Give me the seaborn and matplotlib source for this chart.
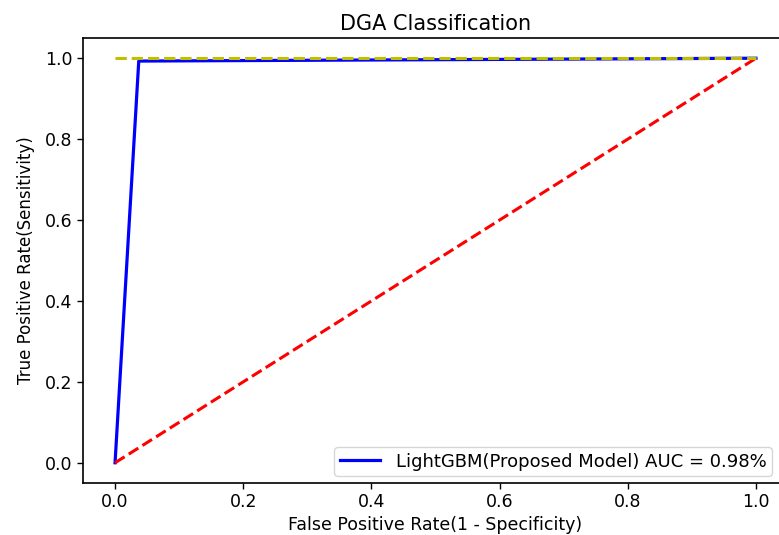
import matplotlib
matplotlib.use("Agg")
import matplotlib.pyplot as plt
import seaborn as sns
import pandas as pd

# ROC data
fpr = [0.0, 0.037, 1.0]
tpr = [0.0, 0.993, 1.0]
diag_x = [0.0, 1.0]
diag_y = [0.0, 1.0]
perfect_x = [0.0, 1.0]
perfect_y = [1.0, 1.0]
legend_label = "LightGBM(Proposed Model) AUC = 0.98%"
title = "DGA Classification"
xlabel = "False Positive Rate(1 - Specificity)"
ylabel = "True Positive Rate(Sensitivity)"

plt.rcParams['font.family'] = ['DejaVu Sans']

W, H = 779, 535
fig = plt.figure(figsize=(W / 100, H / 100), dpi=100)
ax = fig.add_axes([83 / W, (H - 483) / H, (788 - 83) / W, (483 - 38) / H])

roc_df = pd.DataFrame({"fpr": fpr, "tpr": tpr})
sns.lineplot(data=roc_df, x="fpr", y="tpr", sort=False, estimator=None,
             color="b", linewidth=2.3, label=legend_label, ax=ax)
sns.lineplot(x=diag_x, y=diag_y, sort=False, estimator=None,
             color="r", linewidth=2.2, linestyle="--", ax=ax)
sns.lineplot(x=perfect_x, y=perfect_y, sort=False, estimator=None,
             color="y", linewidth=2.2, linestyle="--", ax=ax)

ax.set_xlim(-0.05, 1.05)
ax.set_ylim(-0.05, 1.05)
ax.set_xticks([0.0, 0.2, 0.4, 0.6, 0.8, 1.0])
ax.set_yticks([0.0, 0.2, 0.4, 0.6, 0.8, 1.0])
ax.tick_params(labelsize=12.5, length=4, width=1)
ax.set_title(title, fontsize=15, pad=6)
ax.set_xlabel(xlabel, fontsize=12.5, labelpad=3)
ax.set_ylabel(ylabel, fontsize=12, labelpad=7)
for s in ax.spines.values():
    s.set_linewidth(1.2)

ax.legend(loc="lower right", bbox_to_anchor=(772 / W, (H - 476) / H),
          bbox_transform=fig.transFigure, borderaxespad=0, fontsize=13,
          handlelength=2.2, borderpad=0.3, handletextpad=0.9)

fig.savefig("out.png", dpi=100)
